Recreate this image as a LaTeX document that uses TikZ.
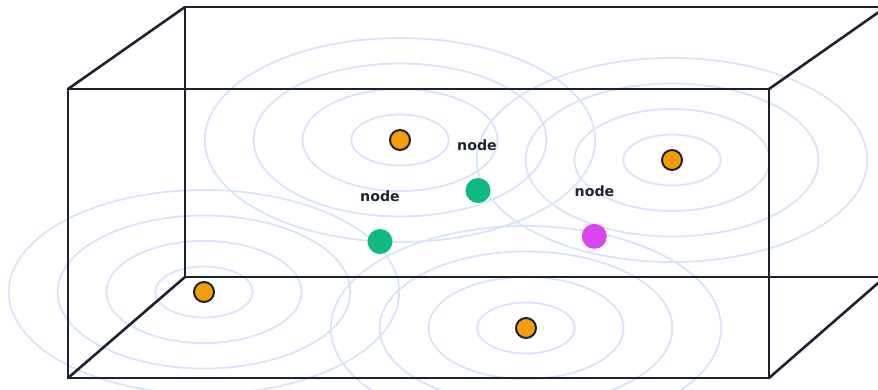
\documentclass[tikz,border=0pt]{standalone}
\usepackage{fontspec}
\setmainfont{DejaVu Sans}
\definecolor{edge}{HTML}{1C2230}
\definecolor{ring}{HTML}{D8E2FA}
\definecolor{srcfill}{HTML}{F59E0B}
\definecolor{greenfill}{HTML}{10B981}
\definecolor{pinkfill}{HTML}{D946EF}
\definecolor{labelc}{HTML}{1E2535}
\begin{document}
\begin{tikzpicture}[x=1pt,y=-1pt,
  boxline/.style={draw=edge,line width=2.6pt,line cap=round,line join=round},
  ringline/.style={draw=ring,line width=1.8pt},
  source/.style={circle,draw=edge,line width=2pt,fill=srcfill,minimum size=20pt,inner sep=0pt},
  probe/.style={circle,fill=#1,minimum size=25pt,inner sep=0pt},
  lbl/.style={font=\bfseries\fontsize{14.2}{16}\selectfont,text=labelc,inner sep=0pt}]
\useasboundingbox (0,0) rectangle (878,389);
% wave rings
\foreach \cx/\cy in {400/140,672/160,204/292,526/328}{
  \foreach \k in {1,2,3,4}{
    \draw[ringline] (\cx,\cy) ellipse ({48.8*\k} and {25.5*\k});
  }
}
% box corners
\coordinate (f1) at (68,89);
\coordinate (f2) at (769,89);
\coordinate (f3) at (769,378);
\coordinate (f4) at (68,378);
\coordinate (b1) at (185,7);
\coordinate (b2) at (880,7);
\coordinate (b4) at (185,277);
\coordinate (b3) at (880,277);
\coordinate (r1) at (881,10.5);
\coordinate (r3) at (881,280.5);
\draw[boxline] (b2) -- (b1) -- (b4) -- (b3);
\draw[boxline] (f1) -- (f2) -- (f3) -- (f4) -- cycle;
\draw[boxline] (f1) -- (b1);
\draw[boxline] (f4) -- (b4);
\draw[boxline] (f2) -- (r1);
\draw[boxline] (f3) -- (r3);
% sources
\node[source] (s1) at (400,140) {};
\node[source] (s2) at (672,160) {};
\node[source] (s3) at (204,292) {};
\node[source] (s4) at (526,328) {};
% probe nodes
\node[probe=greenfill] (g1) at (478,190.5) {};
\node[probe=greenfill] (g2) at (380,241.5) {};
\node[probe=pinkfill] (p1) at (594.3,236.3) {};
% labels
\node[lbl] (l1) at (477,145) {node};
\node[lbl] (l2) at (380,196.5) {node};
\node[lbl] (l3) at (594.5,191) {node};
\end{tikzpicture}
\end{document}
